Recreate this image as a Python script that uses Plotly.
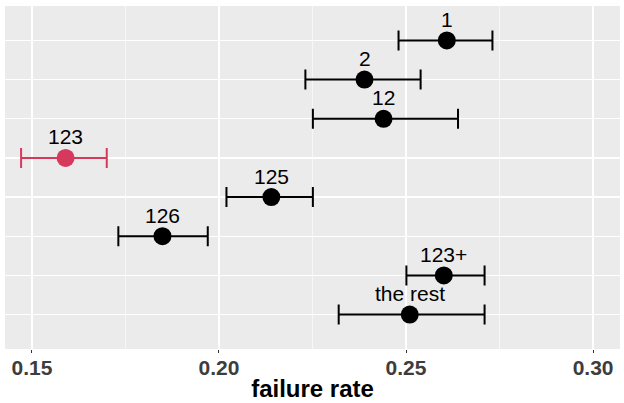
import plotly.graph_objects as go

labels = ["1", "2", "12", "123", "125", "126", "123+", "the rest"]
rate = [0.2609, 0.2389, 0.2440, 0.1590, 0.2140, 0.1849, 0.2601, 0.2510]
lower = [0.2480, 0.2231, 0.2251, 0.1471, 0.2020, 0.1731, 0.2501, 0.2320]
upper = [0.2731, 0.2539, 0.2639, 0.1700, 0.2251, 0.1970, 0.2710, 0.2710]
colors = ["#000000", "#000000", "#000000", "#D7385E", "#000000", "#000000", "#000000", "#000000"]
xticks = [0.15, 0.20, 0.25, 0.30]
xticklabels = ["0.15", "0.20", "0.25", "0.30"]

ypos = list(range(1, len(labels) + 1))

fig = go.Figure()
for i in range(len(labels)):
    fig.add_trace(go.Scatter(
        x=[rate[i]], y=[ypos[i]], mode="markers",
        marker=dict(size=18, color=colors[i], line=dict(width=0)),
        error_x=dict(type="data", symmetric=False,
                     array=[upper[i] - rate[i]], arrayminus=[rate[i] - lower[i]],
                     color=colors[i], thickness=2, width=10),
        showlegend=False, hoverinfo="skip",
    ))
    fig.add_annotation(x=rate[i], y=ypos[i], text=labels[i], showarrow=False,
                       yshift=21, font=dict(family="Liberation Sans, Arial", size=21, color="#000000"))

fig.update_layout(
    width=624, height=403,
    margin=dict(l=5, r=4, t=6, b=54),
    paper_bgcolor="white", plot_bgcolor="#EBEBEB",
    font=dict(family="Liberation Sans, Arial", color="#000000"),
)
fig.update_xaxes(
    range=[0.1428, 0.3072], tickvals=xticks, ticktext=xticklabels,
    showgrid=True, gridcolor="white", gridwidth=1.2,
    ticks="outside", ticklen=3, tickcolor="#333333", tickwidth=1,
    ticklabelstandoff=-3,
    tickfont=dict(family="Liberation Sans, Arial", size=21, color="#3D3D3D", weight="bold"),
    title=dict(text="failure rate", font=dict(family="Liberation Sans, Arial", size=24, color="#000000", weight="bold"), standoff=1),
    minor=dict(tickvals=[0.175, 0.225, 0.275], showgrid=True, gridcolor="white", gridwidth=0.6, ticks=""),
    zeroline=False, showline=False, automargin=False,
)
fig.update_yaxes(
    range=[8.88, 0.12], tickvals=ypos, showticklabels=False,
    showgrid=True, gridcolor="white", gridwidth=1.2,
    ticks="", zeroline=False, showline=False,
)

fig.write_html("out.html", config={"displayModeBar": False, "staticPlot": True})
with open("out.html", encoding="utf-8") as f:
    html = f.read()
html = html.replace("<body>", '<body style="margin:0;padding:0;">', 1)
with open("out.html", "w", encoding="utf-8") as f:
    f.write(html)
